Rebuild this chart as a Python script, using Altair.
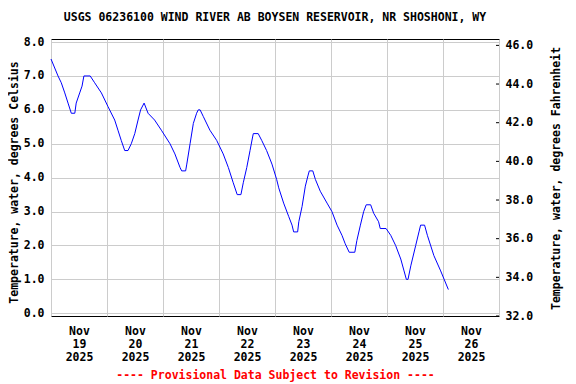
import altair as alt
import pandas as pd

# Hours since Nov 19 2025 00:00 and water temperature (deg C)
hours = [0.0, 3.0, 4.4, 5.9, 7.3, 8.7, 10.2, 10.8, 12.3, 13.3, 14.1, 16.8, 18.7, 21.6,
         24.4, 27.3, 28.7, 30.1, 31.6, 33.0, 34.4, 35.9, 37.3, 38.4, 39.9, 41.6, 44.4,
         47.3, 51.0, 53.1, 55.3, 56.0, 57.7, 58.2, 59.6, 61.0, 62.4, 63.1, 63.9, 65.3,
         68.1, 71.0, 73.8, 76.0, 78.1, 79.8, 81.4, 82.4, 83.9, 85.3, 86.4, 86.7, 88.8,
         90.3, 92.4, 94.7, 96.7, 97.6, 99.7, 101.9, 103.3, 104.0, 105.7, 106.2, 107.6,
         109.0, 110.1, 110.7, 112.2, 113.3, 115.4, 118.3, 120.4, 122.6, 124.7, 126.1,
         127.8, 130.2, 131.1, 132.6, 134.0, 135.1, 137.0, 138.3, 140.4, 141.1, 143.6,
         145.6, 147.7, 149.9, 151.3, 152.3, 153.0, 154.2, 156.3, 157.7, 158.4, 160.1,
         161.3, 164.1, 167.0, 170.3]
temps_c = [7.5, 7.0, 6.8, 6.5, 6.2, 5.9, 5.9, 6.2, 6.5, 6.7, 7.0, 7.0, 6.8, 6.5,
           6.1, 5.7, 5.4, 5.1, 4.8, 4.8, 5.0, 5.3, 5.7, 6.0, 6.2, 5.9, 5.7,
           5.4, 5.0, 4.7, 4.3, 4.2, 4.2, 4.4, 5.0, 5.6, 5.9, 6.0, 6.0, 5.8,
           5.4, 5.1, 4.7, 4.3, 3.85, 3.5, 3.5, 3.85, 4.3, 4.8, 5.2, 5.3, 5.3,
           5.1, 4.8, 4.4, 3.95, 3.7, 3.25, 2.85, 2.6, 2.4, 2.4, 2.7, 3.15,
           3.75, 4.05, 4.2, 4.2, 3.95, 3.6, 3.25, 3.0, 2.6, 2.3, 2.05,
           1.8, 1.8, 2.15, 2.6, 3.0, 3.2, 3.2, 2.95, 2.7, 2.5, 2.5,
           2.3, 2.0, 1.6, 1.25, 1.0, 1.0, 1.4, 2.0, 2.4, 2.6, 2.6,
           2.3, 1.7, 1.25, 0.7]

day_ticks = [0, 24, 48, 72, 96, 120, 144, 168, 192]
c_ticks = [0, 1, 2, 3, 4, 5, 6, 7, 8]
f_ticks = [32, 34, 36, 38, 40, 42, 44, 46]

FONT = "DejaVu Sans Mono"

df = pd.DataFrame({"hour": hours, "temp_c": temps_c})
fdf = pd.DataFrame({"f": f_ticks})

line = alt.Chart(df).mark_line(color="#0000ff", strokeWidth=1).encode(
    x=alt.X(
        "hour:Q",
        scale=alt.Scale(domain=[0, 192], nice=False, zero=False),
        axis=alt.Axis(
            values=day_ticks, grid=True, gridColor="#cccccc", ticks=False, tickSize=0,
            domain=False, labelOffset=28, labelPadding=9, labelBaseline="top",
            labelLineHeight=13, labelOverlap=False, labelFlush=False,
            labelExpr="datum.value < 192 ? ['Nov', '' + (19 + datum.value / 24), '2025'] : ''",
            title="---- Provisional Data Subject to Revision ----",
            titleColor="#ff0000", titleY=59, titleBaseline="middle",
        ),
    ),
    y=alt.Y(
        "temp_c:Q",
        scale=alt.Scale(domain=[-0.08, 8.09], nice=False, zero=False),
        axis=alt.Axis(
            values=c_ticks, format=".1f", grid=True, gridColor="#cccccc", ticks=False,
            tickSize=0, domain=False, labelPadding=7,
            title="Temperature, water, degrees Celsius",
            titleAngle=-90, titleX=-36.5, titleY=143, titleBaseline="middle",
        ),
    ),
)

right = alt.Chart(fdf).mark_rule(color="black", strokeWidth=1).encode(
    x=alt.value(445),
    x2=alt.value(448),
    y=alt.Y(
        "f:Q",
        scale=alt.Scale(domain=[32, 46.33], nice=False, zero=False),
        axis=alt.Axis(
            orient="right", values=f_ticks, format=".1f", grid=False, ticks=False,
            tickSize=0, domain=False, labelPadding=6,
            title="Temperature, water, degrees Fahrenheit",
            titleAngle=-90, titleX=57, titleY=139, titleBaseline="middle",
        ),
    ),
)

chart = alt.layer(line, right).resolve_scale(y="independent").properties(
    width=448,
    height=277,
    background="white",
    autosize=alt.AutoSizeParams(type="none"),
    padding={"left": 43, "top": 31, "right": 69, "bottom": 66},
    title=alt.TitleParams(
        "USGS 06236100 WIND RIVER AB BOYSEN RESERVOIR, NR SHOSHONI, WY",
        anchor="middle", font=FONT, fontSize=11.5, fontWeight="bold", color="black",
        offset=13,
    ),
).configure_view(stroke="black", strokeWidth=1).configure_axis(
    labelFont=FONT, labelFontSize=11.5, labelFontWeight="bold", labelColor="black",
    titleFont=FONT, titleFontSize=11.5, titleFontWeight="bold", titleColor="black",
)

chart.save("out.html", embed_options={"renderer": "svg", "actions": False})
